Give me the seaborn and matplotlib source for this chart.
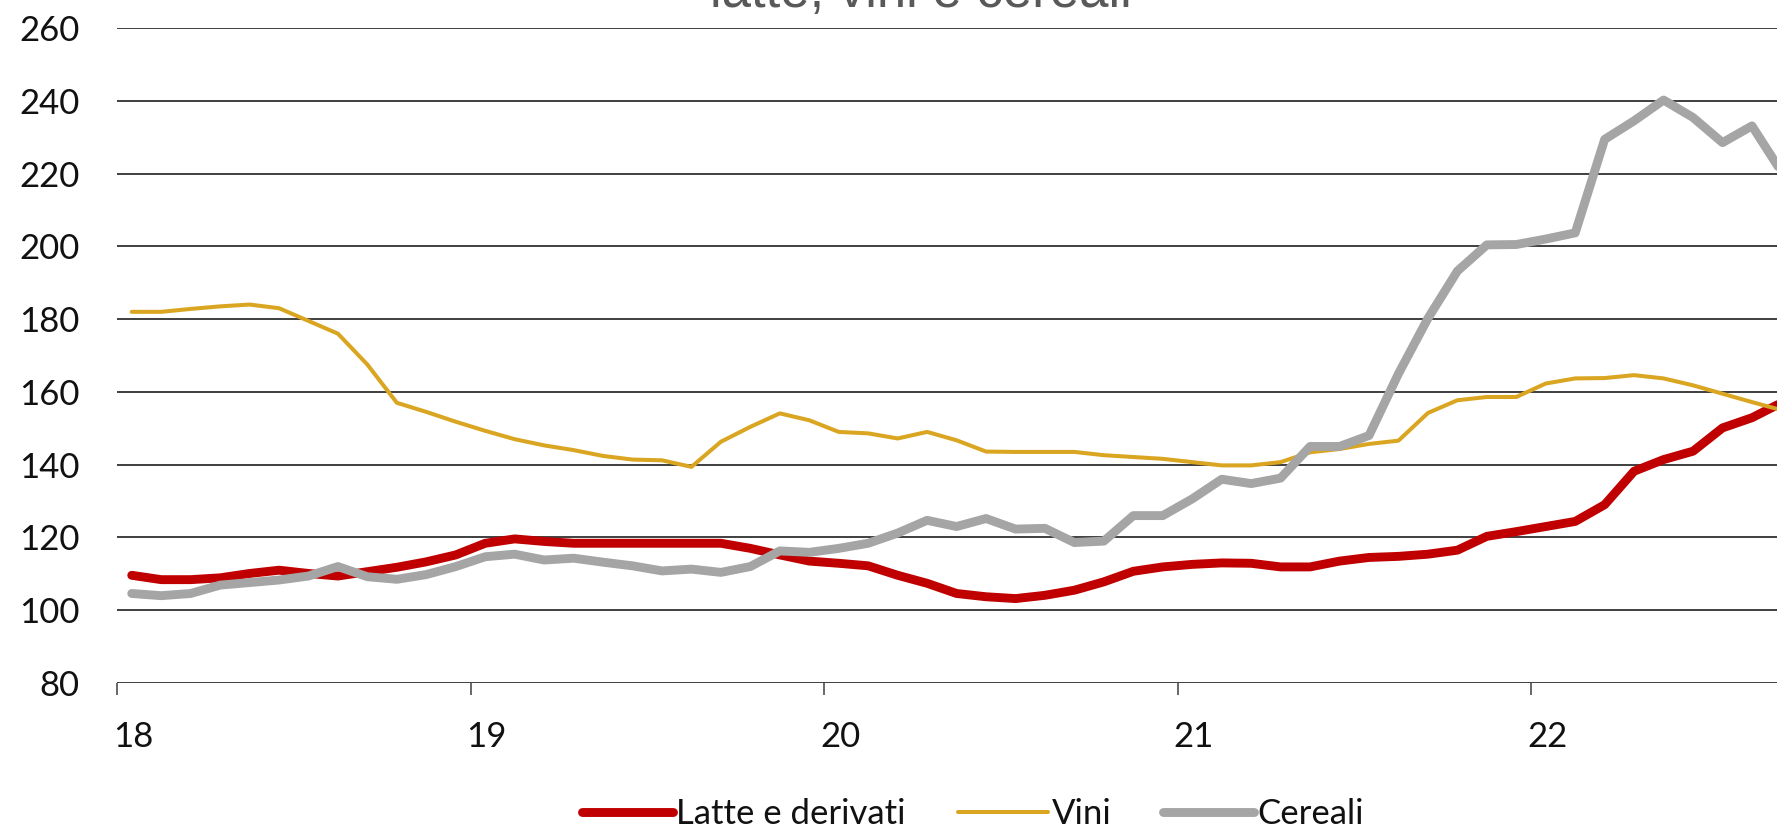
import numpy as np
import pandas as pd
import matplotlib
matplotlib.use("Agg")
import matplotlib.pyplot as plt
import matplotlib.transforms as mtransforms
import seaborn as sns

# ---- data (monthly index, Jan 2018 onward) ----
latte = [109.6, 108.4, 108.4, 108.9, 110.1, 111.0, 110.1, 109.4, 110.6, 111.8,
         113.3, 115.2, 118.4, 119.6, 118.9, 118.4, 118.4, 118.4, 118.4, 118.4,
         118.4, 117.0, 115.2, 113.5, 112.9, 112.2, 109.6, 107.4, 104.6, 103.7,
         103.2, 104.1, 105.5, 107.8, 110.7, 111.9, 112.6, 113.0, 112.9, 111.9,
         111.9, 113.5, 114.5, 114.8, 115.4, 116.5, 120.3, 121.6, 123.0, 124.4,
         129.0, 138.2, 141.4, 143.7, 150.1, 152.9, 157.0]
vini = [182.0, 182.0, 182.8, 183.5, 184.0, 183.0, 179.5, 176.0, 167.5, 157.0,
        154.5, 151.8, 149.3, 147.0, 145.3, 144.0, 142.4, 141.4, 141.2, 139.4,
        146.3, 150.4, 154.1, 152.2, 149.0, 148.6, 147.2, 149.0, 146.7, 143.6,
        143.5, 143.5, 143.5, 142.6, 142.1, 141.6, 140.7, 139.8, 139.8, 140.7,
        143.4, 144.3, 145.7, 146.6, 154.2, 157.7, 158.6, 158.6, 162.3, 163.7,
        163.8, 164.6, 163.7, 161.8, 159.5, 157.2, 155.0]
cereali = [104.6, 104.0, 104.6, 106.9, 107.6, 108.3, 109.4, 112.0, 109.2, 108.5,
           109.8, 112.0, 114.7, 115.4, 113.8, 114.3, 113.2, 112.2, 110.8, 111.3,
           110.4, 112.0, 116.3, 115.9, 117.0, 118.4, 121.2, 124.7, 123.0, 125.2,
           122.3, 122.5, 118.6, 119.0, 126.0, 126.0, 130.6, 136.0, 134.8, 136.3,
           145.0, 145.0, 148.0, 165.0, 180.2, 193.2, 200.4, 200.5, 202.0, 203.7,
           229.4, 234.5, 240.2, 235.4, 228.5, 233.1, 220.5]
series_names = ["Latte e derivati", "Vini", "Cereali"]
year_labels = ["18", "19", "20", "21", "22"]
y_ticks = [80, 100, 120, 140, 160, 180, 200, 220, 240, 260]
title_text = "latte, vini e cereali"

months = np.arange(len(latte))
df = pd.DataFrame({"mese": months, series_names[0]: latte,
                   series_names[1]: vini, series_names[2]: cereali})

sns.set_theme(style="white")
plt.rcParams["font.family"] = ["Lato", "DejaVu Sans"]

W, H = 1777, 830
fig = plt.figure(figsize=(W / 100, H / 100), dpi=100)
ax = fig.add_axes([117 / W, 1 - 683 / H, 1 - 117 / W, (683 - 28) / H])

styles = {
    series_names[0]: dict(color="#C00000", lw=6.4, z=3),
    series_names[1]: dict(color="#DAA520", lw=2.9, z=4),
    series_names[2]: dict(color="#A5A5A5", lw=6.4, z=5),
}
for name in series_names:
    st = styles[name]
    sns.lineplot(data=df, x="mese", y=name, ax=ax, color=st["color"],
                 linewidth=st["lw"], label=name, zorder=st["z"],
                 estimator=None, sort=False)
for ln in ax.lines:
    ln.set_solid_capstyle("round")
    ln.set_solid_joinstyle("round")

ax.set_xlim(-0.5, 55.85)
ax.set_ylim(80, 260)
ax.set_yticks(y_ticks)
ax.set_yticklabels([str(v) for v in y_ticks])
ax.yaxis.grid(True, color="#3f3f3f", linewidth=1.4)
ax.set_axisbelow(True)
for s in ax.spines.values():
    s.set_visible(False)

xt = [-0.5 + 12 * k for k in range(len(year_labels))]
ax.set_xticks(xt)
ax.set_xticklabels(year_labels, ha="left")
ax.tick_params(axis="x", direction="out", length=8.6, width=1.1,
               color="#3f3f3f", pad=19, labelsize=25, labelcolor="#111111",
               bottom=True)
ax.tick_params(axis="y", length=0, pad=27, labelsize=25, labelcolor="#111111")
off = mtransforms.ScaledTranslation(-4 / 100, 0, fig.dpi_scale_trans)
for lab in ax.get_xticklabels():
    lab.set_transform(lab.get_transform() + off)
ax.set_xlabel("")
ax.set_ylabel("")

handles, labels = ax.get_legend_handles_labels()
ax.get_legend().remove()
leg = fig.legend(handles, labels, loc="center", ncol=3,
                 bbox_to_anchor=(973 / W, 1 - 814 / H), frameon=False,
                 fontsize=25, handlelength=2.6, handletextpad=0.1,
                 columnspacing=1.5, labelcolor="#111111")
for h in leg.legend_handles:
    h.set_solid_capstyle("round")

fig.text(921 / W, 1 - 7 / H, title_text, ha="center", va="baseline",
         fontsize=38, color="#595959", family=["Liberation Sans", "DejaVu Sans"])

fig.savefig("out.png", dpi=100)
